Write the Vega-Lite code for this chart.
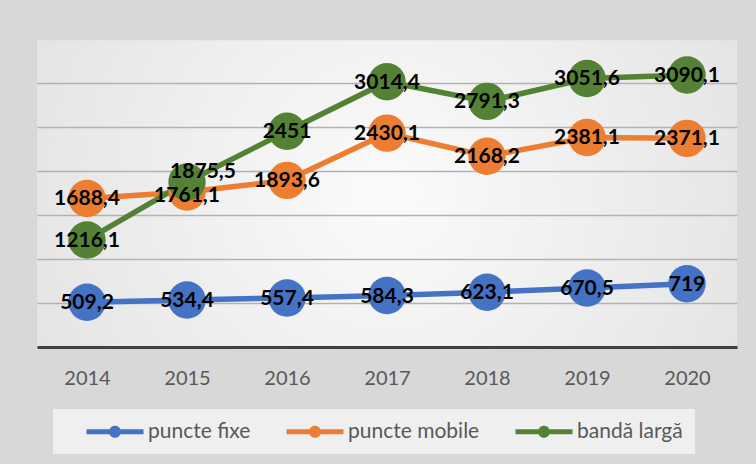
{
  "$schema": "https://vega.github.io/schema/vega-lite/v6.json",
  "width": 700,
  "height": 308,
  "autosize": {"type": "none"},
  "padding": {"left": 37, "top": 39, "right": 19, "bottom": 117},
  "background": "#d8d8d8",
  "config": {
    "font": "Lato",
    "locale": {"number": {"decimal": ",", "thousands": ".", "grouping": [3], "currency": ["", ""]}},
    "view": {
      "stroke": null,
      "fill": {
        "gradient": "radial",
        "x1": 0.5, "y1": 0.5, "r1": 0,
        "x2": 0.5, "y2": 0.5, "r2": 0.75,
        "stops": [
          {"offset": 0, "color": "#fbfbfb"},
          {"offset": 1, "color": "#dcdcdc"}
        ]
      }
    }
  },
  "data": {
    "values": [
      {"year": "2014", "serie": "puncte fixe", "v": 509.2},
      {"year": "2015", "serie": "puncte fixe", "v": 534.4},
      {"year": "2016", "serie": "puncte fixe", "v": 557.4},
      {"year": "2017", "serie": "puncte fixe", "v": 584.3},
      {"year": "2018", "serie": "puncte fixe", "v": 623.1},
      {"year": "2019", "serie": "puncte fixe", "v": 670.5},
      {"year": "2020", "serie": "puncte fixe", "v": 719},
      {"year": "2014", "serie": "puncte mobile", "v": 1688.4},
      {"year": "2015", "serie": "puncte mobile", "v": 1761.1},
      {"year": "2016", "serie": "puncte mobile", "v": 1893.6},
      {"year": "2017", "serie": "puncte mobile", "v": 2430.1},
      {"year": "2018", "serie": "puncte mobile", "v": 2168.2},
      {"year": "2019", "serie": "puncte mobile", "v": 2381.1},
      {"year": "2020", "serie": "puncte mobile", "v": 2371.1},
      {"year": "2014", "serie": "bandă largă", "v": 1216.1},
      {"year": "2015", "serie": "bandă largă", "v": 1875.5},
      {"year": "2016", "serie": "bandă largă", "v": 2451},
      {"year": "2017", "serie": "bandă largă", "v": 3014.4},
      {"year": "2018", "serie": "bandă largă", "v": 2791.3},
      {"year": "2019", "serie": "bandă largă", "v": 3051.6},
      {"year": "2020", "serie": "bandă largă", "v": 3090.1}
    ]
  },
  "encoding": {
    "x": {
      "field": "year",
      "type": "ordinal",
      "scale": {"type": "point", "padding": 0.5},
      "axis": {
        "title": null,
        "labelAngle": 0,
        "ticks": false,
        "grid": false,
        "domainColor": "#404040",
        "domainWidth": 3,
        "labelFontSize": 20,
        "labelColor": "#595959",
        "labelPadding": 21
      }
    },
    "y": {
      "field": "v",
      "type": "quantitative",
      "scale": {"domain": [0, 3500], "nice": false},
      "axis": {
        "title": null,
        "labels": false,
        "ticks": false,
        "domain": false,
        "grid": true,
        "values": [500, 1000, 1500, 2000, 2500, 3000, 3500],
        "gridColor": {"condition": {"test": "datum.value === 3500", "value": "#d6d6d6"}, "value": "#b2b2b2"},
        "gridWidth": 1.6
      }
    },
    "color": {
      "field": "serie",
      "type": "nominal",
      "scale": {
        "domain": ["puncte fixe", "puncte mobile", "bandă largă"],
        "range": ["#4472C4", "#ED7D31", "#548235"]
      },
      "legend": {
        "title": null,
        "orient": "none",
        "legendX": 16,
        "legendY": 370,
        "direction": "horizontal",
        "fillColor": "#efefef",
        "padding": 12,
        "symbolType": "M1.1,-0.25L6.8,-0.25L6.8,0.25L1.1,0.25Z M3.35,0A0.6,0.6,0,1,1,4.55,0A0.6,0.6,0,1,1,3.35,0Z",
        "symbolSize": 400,
        "symbolStrokeWidth": 0,
        "labelFontSize": 21,
        "labelColor": "#595959",
        "labelOffset": 62,
        "columnPadding": 14
      }
    }
  },
  "layer": [
    {"mark": {"type": "line", "strokeWidth": 5.5}},
    {"mark": {"type": "point", "filled": true, "size": 1400, "opacity": 1}},
    {
      "transform": [{"filter": "!(datum.year == '2015' && datum.serie != 'puncte fixe')"}],
      "mark": {"type": "text", "fontWeight": "bold", "fontSize": 21, "dy": 1},
      "encoding": {
        "text": {"field": "v", "type": "quantitative", "format": ".1~f"},
        "color": {"value": "#000000"}
      }
    },
    {
      "transform": [{"filter": "datum.year == '2015' && datum.serie == 'bandă largă'"}],
      "mark": {"type": "text", "fontWeight": "bold", "fontSize": 21, "dx": 16, "dy": -10},
      "encoding": {
        "text": {"field": "v", "type": "quantitative", "format": ".1~f"},
        "color": {"value": "#000000"}
      }
    },
    {
      "transform": [{"filter": "datum.year == '2015' && datum.serie == 'puncte mobile'"}],
      "mark": {"type": "text", "fontWeight": "bold", "fontSize": 21, "dy": 4},
      "encoding": {
        "text": {"field": "v", "type": "quantitative", "format": ".1~f"},
        "color": {"value": "#000000"}
      }
    }
  ]
}
